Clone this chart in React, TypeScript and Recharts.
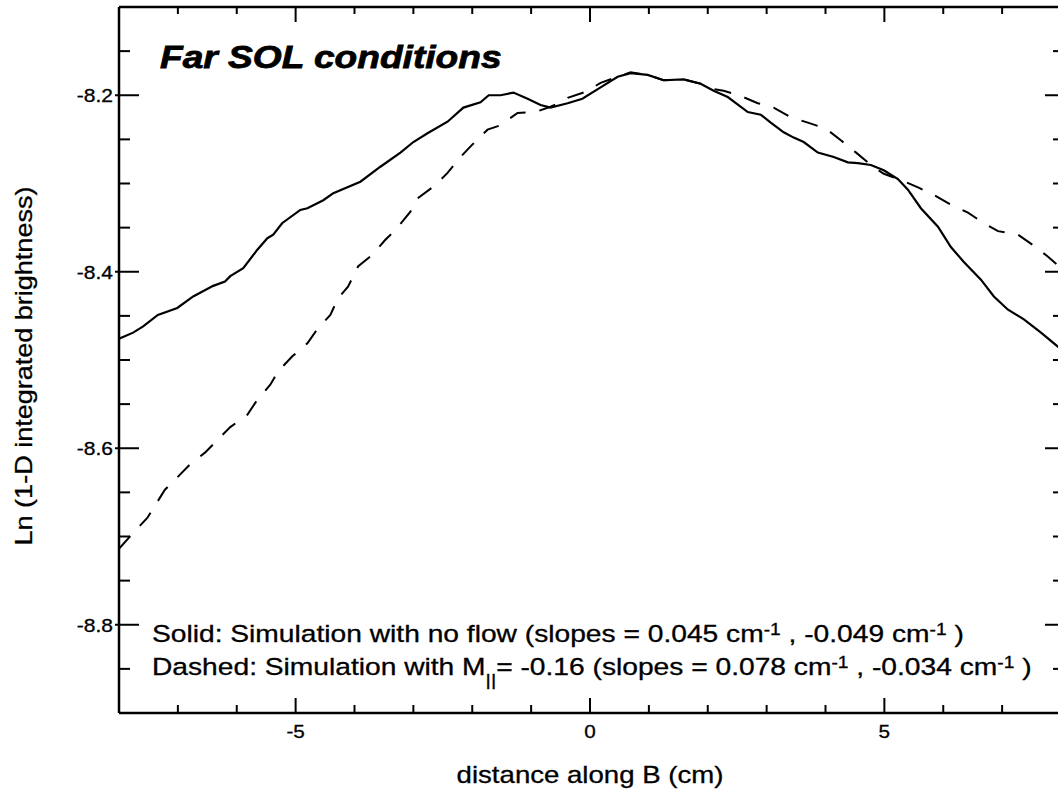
import React from 'react';
import { LineChart, Line, XAxis, YAxis, Customized } from 'recharts';

const FONT = '"Liberation Sans", Arial, Helvetica, sans-serif';

// x ticks (cm) and labelled ones
const xTicks = [-8, -7, -6, -5, -4, -3, -2, -1, 0, 1, 2, 3, 4, 5, 6, 7, 8];
const xLabels = [-5, 0, 5];
// y ticks and labelled ones
const yTicks = [-8.9, -8.85, -8.8, -8.75, -8.7, -8.65, -8.6, -8.55, -8.5, -8.45, -8.4, -8.35, -8.3, -8.25, -8.2, -8.15, -8.1];
const yLabels = [-8.8, -8.6, -8.4, -8.2];

// Solid: simulation with no flow
const solidX = [-8, -7.76, -7.59, -7.34, -7.01, -6.74, -6.4, -6.2, -6.11, -5.89, -5.65, -5.48, -5.38, -5.23, -4.92, -4.8, -4.53, -4.36, -3.9, -3.56, -3.22, -3.0, -2.76, -2.42, -2.15, -1.86, -1.72, -1.52, -1.3, -1.06, -0.84, -0.67, -0.38, -0.13, 0.18, 0.47, 0.69, 0.98, 1.25, 1.59, 1.88, 2.1, 2.34, 2.68, 2.9, 3.07, 3.29, 3.46, 3.63, 3.87, 4.14, 4.38, 4.55, 4.77, 4.99, 5.23, 5.4, 5.62, 5.91, 6.13, 6.35, 6.64, 6.86, 7.1, 7.37, 7.66, 7.95, 8.0];
const solidY = [-8.476, -8.469, -8.462, -8.449, -8.441, -8.428, -8.416, -8.411, -8.405, -8.396, -8.375, -8.362, -8.358, -8.345, -8.33, -8.328, -8.319, -8.311, -8.298, -8.281, -8.265, -8.253, -8.243, -8.23, -8.214, -8.208, -8.2, -8.2, -8.197, -8.204, -8.211, -8.214, -8.209, -8.204, -8.191, -8.179, -8.175, -8.177, -8.183, -8.182, -8.187, -8.195, -8.202, -8.219, -8.222, -8.231, -8.242, -8.248, -8.253, -8.265, -8.27, -8.276, -8.277, -8.279, -8.285, -8.295, -8.307, -8.328, -8.349, -8.372, -8.389, -8.409, -8.428, -8.443, -8.454, -8.469, -8.485, -8.487];

// Dashed: simulation with M|| = -0.16
const dashX = [-8, -7.76, -7.52, -7.22, -7.01, -6.79, -6.54, -6.32, -6.11, -5.82, -5.65, -5.43, -5.3, -5.06, -4.8, -4.62, -4.41, -4.28, -4.11, -3.94, -3.7, -3.48, -3.31, -3.05, -2.93, -2.63, -2.42, -2.2, -2.0, -1.74, -1.52, -1.23, -0.93, -0.67, -0.5, -0.38, -0.07, 0.18, 0.47, 0.69, 0.98, 1.25, 1.59, 1.88, 2.1, 2.27, 2.53, 2.85, 3.12, 3.41, 3.7, 4.01, 4.26, 4.52, 4.77, 4.99, 5.28, 5.59, 5.84, 6.13, 6.42, 6.69, 6.93, 7.27, 7.53, 7.78, 8.0];
const dashY = [-8.714, -8.696, -8.679, -8.647, -8.633, -8.618, -8.605, -8.59, -8.576, -8.562, -8.545, -8.528, -8.513, -8.496, -8.481, -8.464, -8.449, -8.43, -8.417, -8.394, -8.381, -8.364, -8.353, -8.332, -8.317, -8.302, -8.288, -8.27, -8.256, -8.239, -8.234, -8.22, -8.219, -8.213, -8.208, -8.203, -8.196, -8.186, -8.179, -8.174, -8.177, -8.183, -8.182, -8.187, -8.193, -8.195, -8.2, -8.209, -8.214, -8.225, -8.231, -8.238, -8.251, -8.265, -8.279, -8.289, -8.296, -8.305, -8.313, -8.324, -8.333, -8.345, -8.354, -8.358, -8.37, -8.383, -8.396];

const solidData = solidX.map((x, i) => ({ x, y: solidY[i] }));
const dashData = dashX.map((x, i) => ({ x, y: dashY[i] }));

const isXMajor = (v: number) => xLabels.some((l) => Math.abs(l - v) < 1e-6);
const isYMajor = (v: number) => yLabels.some((l) => Math.abs(l - v) < 1e-6);

const BottomTick = (props: any) => {
  const { x, y, payload } = props;
  const v = payload.value;
  const major = isXMajor(v);
  return (
    <g>
      <line x1={x} x2={x} y1={y} y2={y - (major ? 15 : 8)} stroke="#000" strokeWidth={2} />
      {major && (
        <text transform={`translate(${x},${y + 25}) scale(1.15,1)`} textAnchor="middle" fontSize={18} fontFamily={FONT} fill="#000" stroke="#000" strokeWidth={0.3}>
          {String(v)}
        </text>
      )}
    </g>
  );
};

const TopTick = (props: any) => {
  const { x, y, payload } = props;
  const major = isXMajor(payload.value);
  return <line x1={x} x2={x} y1={y} y2={y + (major ? 15 : 7)} stroke="#000" strokeWidth={2} />;
};

const LeftTick = (props: any) => {
  const { x, y, payload } = props;
  const v = payload.value;
  const major = isYMajor(v);
  return (
    <g>
      <line x1={major ? x - 4 : x} x2={x + (major ? 20 : 11)} y1={y} y2={y} stroke="#000" strokeWidth={2} />
      {major && (
        <text transform={`translate(${x - 6},${y + 7}) scale(1.2,1)`} textAnchor="end" fontSize={17.5} fontFamily={FONT} fill="#000" stroke="#000" strokeWidth={0.3}>
          {v.toFixed(1)}
        </text>
      )}
    </g>
  );
};

const RightTick = (props: any) => {
  const { x, y, payload } = props;
  const major = isYMajor(payload.value);
  return <line x1={x} x2={x - (major ? 16 : 8)} y1={y} y2={y} stroke="#000" strokeWidth={2} />;
};

const Texts = () => (
  <g fontFamily={FONT} fill="#000">
    <text transform="translate(160,68) scale(1.16,1)" fontSize={32} fontWeight="bold" fontStyle="italic" stroke="#000" strokeWidth={0.8}>
      Far SOL conditions
    </text>
    <g stroke="#000" strokeWidth={0.3}>
      <text transform="translate(152,642) scale(1.2,1)" fontSize={23.5}>
        {'Solid: Simulation with no flow (slopes = 0.045 cm'}
        <tspan fontSize={16} dy={-7}>{'-1'}</tspan>
        <tspan dy={7}>{' , -0.049 cm'}</tspan>
        <tspan fontSize={16} dy={-7}>{'-1'}</tspan>
        <tspan dy={7}>{' )'}</tspan>
      </text>
      <text transform="translate(152,675) scale(1.2,1)" fontSize={23.5}>
        {'Dashed: Simulation with M'}
        <tspan fontSize={17} dy={11}>{'||'}</tspan>
        <tspan dy={-11}>{'= -0.16 (slopes = 0.078 cm'}</tspan>
        <tspan fontSize={16} dy={-7}>{'-1'}</tspan>
        <tspan dy={7}>{' , -0.034 cm'}</tspan>
        <tspan fontSize={16} dy={-7}>{'-1'}</tspan>
        <tspan dy={7}>{' )'}</tspan>
      </text>
      <text transform="translate(590,783) scale(1.2,1)" fontSize={23} textAnchor="middle">
        distance along B (cm)
      </text>
      <text transform="translate(32,366) rotate(-90) scale(1.15,1)" fontSize={23.5} textAnchor="middle">
        Ln (1-D integrated brightness)
      </text>
    </g>
  </g>
);

const axisLine = { stroke: '#000', strokeWidth: 2.5 };

export default function App() {
  return (
    <div style={{ position: 'absolute', left: 0, top: 0, width: 1058, height: 796, overflow: 'hidden', background: '#fff' }}>
      <LineChart width={1062} height={796} margin={{ top: 6, right: 0, bottom: 53, left: 59 }}>
        <XAxis
          xAxisId="bottom"
          dataKey="x"
          type="number"
          orientation="bottom"
          domain={[-8, 8]}
          ticks={xTicks}
          interval={0}
          allowDataOverflow
          height={30}
          axisLine={axisLine}
          tickLine={false}
          tickSize={0}
          tickMargin={0}
          tick={BottomTick}
        />
        <XAxis
          xAxisId="top"
          dataKey="x"
          type="number"
          orientation="top"
          domain={[-8, 8]}
          ticks={xTicks}
          interval={0}
          allowDataOverflow
          height={1}
          axisLine={axisLine}
          tickLine={false}
          tickSize={0}
          tickMargin={0}
          tick={TopTick}
        />
        <YAxis
          yAxisId="left"
          type="number"
          orientation="left"
          domain={[-8.9, -8.1]}
          ticks={yTicks}
          interval={0}
          allowDataOverflow
          width={60}
          axisLine={axisLine}
          tickLine={false}
          tickSize={0}
          tickMargin={0}
          tick={LeftTick}
        />
        <YAxis
          yAxisId="right"
          type="number"
          orientation="right"
          domain={[-8.9, -8.1]}
          ticks={yTicks}
          interval={0}
          allowDataOverflow
          width={1}
          axisLine={axisLine}
          tickLine={false}
          tickSize={0}
          tickMargin={0}
          tick={RightTick}
        />
        <Line
          xAxisId="bottom"
          yAxisId="left"
          data={solidData}
          dataKey="y"
          type="linear"
          stroke="#000"
          strokeWidth={2.2}
          dot={false}
          activeDot={false}
          isAnimationActive={false}
        />
        <Line
          xAxisId="bottom"
          yAxisId="left"
          data={dashData}
          dataKey="y"
          type="linear"
          stroke="#000"
          strokeWidth={2}
          strokeDasharray="17 14"
          dot={false}
          activeDot={false}
          isAnimationActive={false}
        />
        <Customized component={Texts} />
      </LineChart>
    </div>
  );
}
